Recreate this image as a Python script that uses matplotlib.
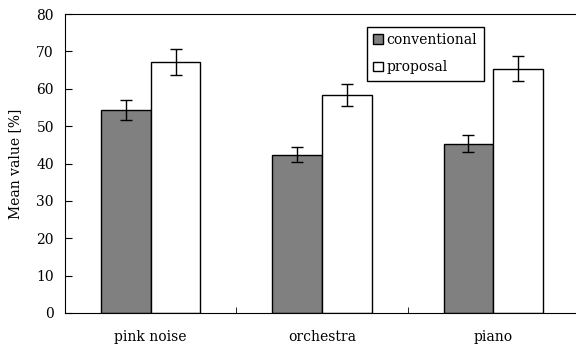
import numpy as np
import matplotlib.pyplot as plt
from matplotlib.patches import Patch

categories = ['pink noise', 'orchestra', 'piano']
conventional = [54.3, 42.3, 45.3]
conventional_err = [2.7, 2.0, 2.2]
proposal = [67.2, 58.4, 65.4]
proposal_err = [3.4, 3.0, 3.3]

plt.rcParams['font.family'] = 'DejaVu Serif'

fig = plt.figure(figsize=(5.76, 3.49), dpi=100)
ax = fig.add_axes([65 / 576, 36 / 349, 514 / 576, 299 / 349])

x = np.arange(len(categories))
w = 0.29
ax.bar(x - w / 2, conventional, w, color='#808080', edgecolor='black', linewidth=1,
       yerr=conventional_err, capsize=4, error_kw={'elinewidth': 1, 'capthick': 1})
ax.bar(x + w / 2, proposal, w, color='white', edgecolor='black', linewidth=1,
       yerr=proposal_err, capsize=4, error_kw={'elinewidth': 1, 'capthick': 1})

ax.set_xlim(-0.5, 2.5)
ax.set_ylim(0, 80)
ax.set_yticks(range(0, 81, 10))
ax.set_xticks(x)
ax.set_xticklabels(categories, fontsize=10)
ax.set_xticks([0.5, 1.5], minor=True)
ax.tick_params(axis='x', which='major', length=0, pad=12)
ax.tick_params(axis='x', which='minor', direction='in', length=4)
ax.tick_params(axis='y', direction='in', length=5, labelsize=10, pad=8)
ax.spines['right'].set_visible(False)
ax.set_ylabel('Mean value [%]', fontsize=10, labelpad=10)

handles = [Patch(facecolor='#808080', edgecolor='black', label='conventional'),
           Patch(facecolor='white', edgecolor='black', label='proposal')]
ax.legend(handles=handles, loc='upper left', bbox_to_anchor=(0.588, 0.957),
          handlelength=0.7, handleheight=0.7, handletextpad=0.25, fontsize=10,
          fancybox=False, edgecolor='black', framealpha=1, borderpad=0.45,
          borderaxespad=0, labelspacing=0.95)

fig.savefig('out.png', dpi=100)
